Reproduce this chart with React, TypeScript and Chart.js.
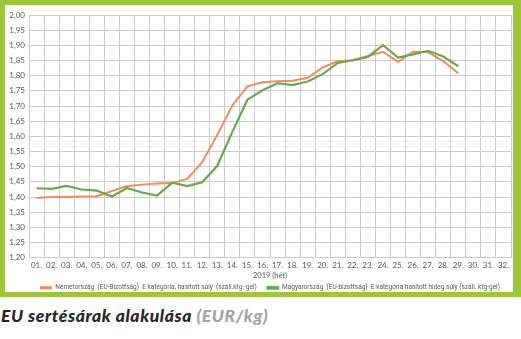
import React, { useEffect, useRef } from "react";
import { Chart, registerables } from "chart.js";

Chart.register(...registerables);

const weeks = [
  "01.", "02.", "03.", "04.", "05.", "06.", "07.", "08.", "09.", "10.",
  "11.", "12.", "13.", "14.", "15.", "16.", "17.", "18.", "19.", "20.",
  "21.", "22.", "23.", "24.", "25.", "26.", "27.", "28.", "29.", "30.",
  "31.", "32.",
];

const germany = [
  1.397, 1.4, 1.4, 1.402, 1.403, 1.42, 1.436, 1.441, 1.445, 1.446,
  1.46, 1.515, 1.605, 1.702, 1.765, 1.778, 1.782, 1.783, 1.793, 1.827,
  1.848, 1.851, 1.865, 1.879, 1.846, 1.879, 1.877, 1.848, 1.808,
];

const hungary = [
  1.429, 1.427, 1.437, 1.425, 1.421, 1.402, 1.43, 1.415, 1.405, 1.447,
  1.436, 1.449, 1.503, 1.615, 1.721, 1.752, 1.775, 1.769, 1.781, 1.805,
  1.842, 1.851, 1.862, 1.901, 1.86, 1.87, 1.882, 1.863, 1.831,
];

const germanyLabel = "Németország  (EU-Bizottság)  E kategória, hasított súly  (száll.ktg.-gel)";
const hungaryLabel = "Magyarország  (EU-bizottság)  E kategória hasított hideg súly (száll. ktg-gel)";
const xTitle = "2019 (hét)";
const yMin = 1.2;
const yMax = 2.0;
const yStep = 0.05;

const ORANGE = "#f08c5e";
const GREEN = "#6aa84f";
const FRAME = "#9dc73b";
const TXT = "#595959";

export default function App() {
  const ref = useRef<HTMLCanvasElement | null>(null);

  useEffect(() => {
    document.body.style.margin = "0";
    const canvas = ref.current;
    if (!canvas) return;
    const chart = new Chart(canvas, {
      type: "line",
      data: {
        labels: weeks,
        datasets: [
          {
            label: germanyLabel,
            data: germany,
            borderColor: ORANGE,
            backgroundColor: ORANGE,
            borderWidth: 2,
            pointRadius: 0,
            tension: 0,
            order: 1,
          },
          {
            label: hungaryLabel,
            data: hungary,
            borderColor: GREEN,
            backgroundColor: GREEN,
            borderWidth: 2.2,
            pointRadius: 0,
            tension: 0,
            order: 0,
          },
        ],
      },
      options: {
        responsive: false,
        animation: false,
        layout: { padding: { left: 7, right: 10, top: 15, bottom: 0 } },
        plugins: {
          tooltip: { enabled: false },
          legend: {
            position: "bottom",
            fullSize: false,
            labels: {
              boxWidth: 12,
              boxHeight: 3,
              padding: 10,
              color: TXT,
              font: { family: "Roboto", size: 6.5 },
              sort: (a: any, b: any) => a.datasetIndex - b.datasetIndex,
              generateLabels: (c: any) =>
                Chart.defaults.plugins.legend.labels
                  .generateLabels(c)
                  .map((l: any) => ({
                    ...l,
                    lineWidth: l.datasetIndex === 1 ? 0.8 : 0,
                  })),
            },
          },
        },
        scales: {
          x: {
            offset: true,
            grid: { offset: true, color: "#cccccc", lineWidth: 1, drawTicks: false },
            border: { display: false },
            ticks: {
              padding: 3,
              color: TXT,
              font: { family: "Lato", size: 8 },
              maxRotation: 0,
              autoSkip: false,
            },
            title: {
              display: true,
              text: xTitle,
              color: TXT,
              font: { family: "Lato", size: 7.5 },
              padding: { top: 0, bottom: -5.75 },
            },
            afterFit: (s: any) => {
              s.height = 16.75;
            },
          },
          y: {
            min: yMin,
            max: yMax,
            grid: { color: "#cccccc", lineWidth: 1, drawTicks: false },
            border: { display: false },
            ticks: {
              stepSize: yStep,
              padding: 4,
              color: TXT,
              font: { family: "Lato", size: 8 },
              callback: (v: any) => Number(v).toFixed(2).replace(".", ","),
            },
            afterFit: (s: any) => {
              s.width = 22;
            },
          },
        },
      },
    });
    return () => chart.destroy();
  }, []);

  return (
    <div style={{ position: "relative", width: 521, height: 339, background: "#ffffff", overflow: "hidden" }}>
      <div style={{ position: "absolute", left: 0, top: 0, width: 521, height: 297, background: FRAME }} />
      <div style={{ position: "absolute", left: 5, top: 5, width: 508, height: 287, background: "#ffffff" }} />
      <canvas ref={ref} width={521} height={301} style={{ position: "absolute", left: 0, top: 0 }} />
      <div
        style={{
          position: "absolute",
          left: 1,
          top: 305,
          fontFamily: "Lato",
          fontWeight: 900,
          fontStyle: "italic",
          fontSize: 17.5,
          whiteSpace: "nowrap",
          color: "#262626",
          letterSpacing: 0.6,
        }}
      >
        EU sertésárak alakulása <span style={{ color: "#a3a3a3" }}>(EUR/kg)</span>
      </div>
    </div>
  );
}
